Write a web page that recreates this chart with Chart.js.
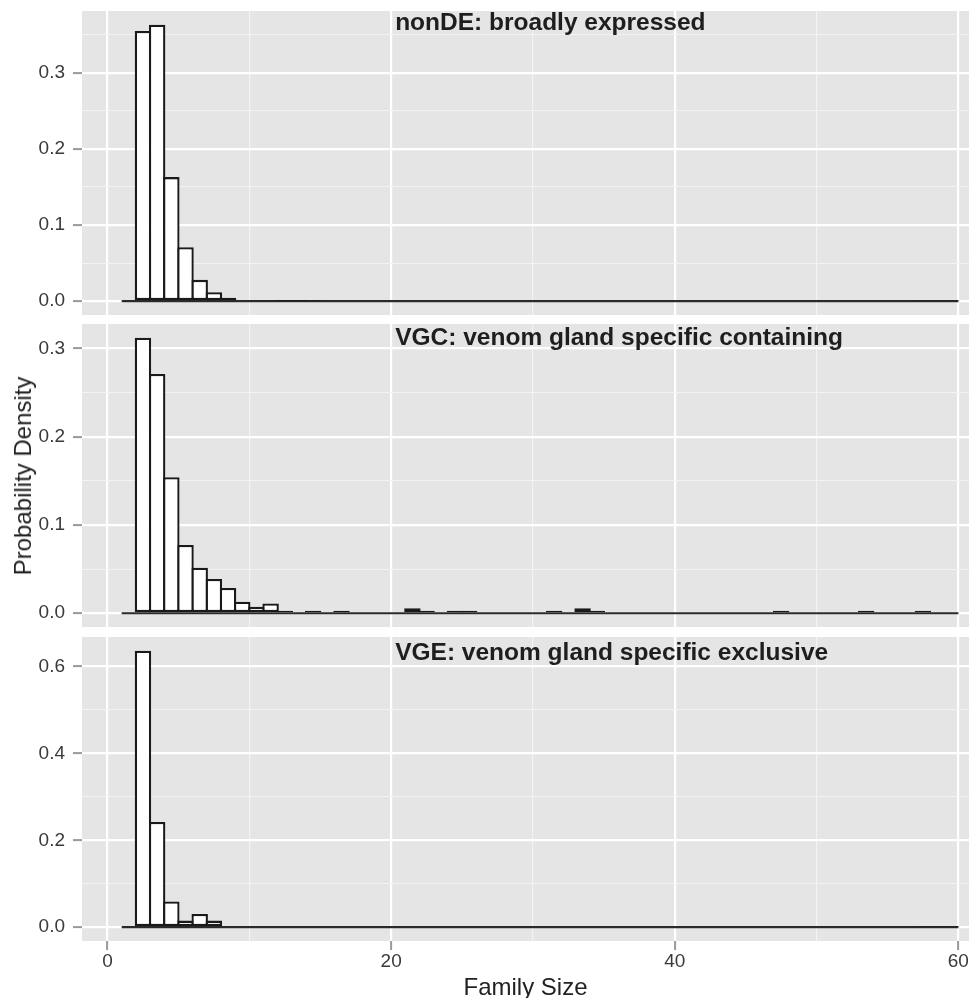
<!DOCTYPE html>
<html>
<head>
<meta charset="utf-8">
<script src="https://cdn.jsdelivr.net/npm/chart.js@4.4.1/dist/chart.umd.min.js"></script>
<style>
  body { margin: 0; background: #fff; }
  #wrap { position: relative; width: 970px; height: 998px; overflow: hidden; }
  #wrap canvas { position: absolute; left: 0; }
  #ytitle {
    position: absolute; left: 23px; top: 476px;
    transform: translate(-50%, -50%) rotate(-90deg);
    font: 24px "Liberation Sans", Arial, sans-serif; color: #222; white-space: nowrap;
  }
</style>
</head>
<body>
<div id="wrap">
  <canvas id="c1" width="970" height="315" style="top:0"></canvas>
  <canvas id="c2" width="970" height="303" style="top:324px"></canvas>
  <canvas id="c3" width="970" height="361" style="top:637px"></canvas>
  <div id="ytitle">Probability Density</div>
</div>
<script>
// family size bins, width 1, labelled by their left edge
const binStarts = [1, 2, 3, 4, 5, 6, 7, 8, 9, 10,
  11, 12, 13, 14, 15, 16, 17, 18, 19, 20,
  21, 22, 23, 24, 25, 26, 27, 28, 29, 30,
  31, 32, 33, 34, 35, 36, 37, 38, 39, 40,
  41, 42, 43, 44, 45, 46, 47, 48, 49, 50,
  51, 52, 53, 54, 55, 56, 57, 58, 59];

const nonDE = [0, 0.355, 0.363, 0.163, 0.071, 0.028, 0.0117, 0.0044, 0.0015, 0.001,
  0.0008, 0.0004, 0.0004, 0.0005, 0, 0, 0, 0, 0, 0,
  0, 0, 0, 0, 0, 0, 0, 0, 0, 0,
  0, 0, 0, 0, 0, 0, 0, 0, 0, 0,
  0, 0, 0, 0, 0, 0, 0, 0, 0, 0,
  0, 0, 0, 0, 0, 0, 0.0008, 0.0008, 0.0008];

const vgc = [0, 0.312, 0.271, 0.154, 0.0773, 0.0516, 0.0388, 0.0285, 0.013, 0.0074,
  0.011, 0.0028, 0, 0.0028, 0, 0.0028, 0, 0, 0, 0,
  0.0056, 0.0028, 0, 0.0028, 0.0028, 0, 0, 0, 0, 0,
  0.0028, 0, 0.0056, 0.0028, 0, 0, 0, 0, 0, 0,
  0, 0, 0, 0, 0, 0, 0.0028, 0, 0, 0,
  0, 0, 0.0028, 0, 0, 0, 0.0028, 0.0008, 0.0008];

const vge = [0, 0.636, 0.242, 0.059, 0.0152, 0.0303, 0.0152, 0, 0, 0,
  0, 0, 0, 0, 0, 0, 0, 0, 0, 0,
  0, 0, 0, 0, 0, 0, 0, 0, 0, 0,
  0, 0, 0, 0, 0, 0, 0, 0, 0, 0,
  0, 0, 0, 0, 0, 0, 0, 0, 0, 0,
  0, 0, 0, 0, 0, 0, 0.0015, 0.0015, 0.0015];

const panelTitles = ["nonDE: broadly expressed", "VGC: venom gland specific containing", "VGE: venom gland specific exclusive"];
const xTicks = [0, 20, 40, 60];
const yTicks1 = [0, 0.1, 0.2, 0.3];
const yTicks2 = [0, 0.1, 0.2, 0.3];
const yTicks3 = [0, 0.2, 0.4, 0.6];

const FONT = '"Liberation Sans", Arial, Helvetica, sans-serif';
const X_MIN = -1.8, X_MAX = 60.75;

const near = (a, b) => Math.abs(a - b) < 1e-9;

// majors plus the minor lines half way between them
function gridValues(majors, min, max) {
  const step = majors[1] - majors[0];
  const out = [];
  majors.forEach(v => { out.push(v); out.push(v + step / 2); out.push(v - step / 2); });
  return out.filter(v => v >= min && v <= max).sort((a, b) => a - b);
}

const panelPlugin = {
  id: 'panel',
  beforeDraw(chart) {
    const a = chart.chartArea;
    const ctx = chart.ctx;
    ctx.save();
    ctx.fillStyle = '#e5e5e5';
    ctx.fillRect(a.left, a.top, a.right - a.left, a.bottom - a.top);
    ctx.restore();
  },
  afterDatasetsDraw(chart, args, opts) {
    const ctx = chart.ctx;
    ctx.save();
    ctx.font = 'bold 24.5px ' + FONT;
    ctx.fillStyle = '#1e1e1e';
    ctx.textAlign = 'left';
    ctx.textBaseline = 'alphabetic';
    ctx.fillText(opts.text, chart.scales.x.getPixelForValue(20) + 4, chart.chartArea.top + opts.dy);
    ctx.restore();
  }
};

function makeChart(id, values, yTicks, title, dy, padTop, showX) {
  const ymax = Math.max(...values);
  const ymin = -0.05 * ymax, ytop = 1.05 * ymax;
  const yGrid = gridValues(yTicks, ymin, ytop);
  const xGrid = gridValues(xTicks, X_MIN, X_MAX);
  const isMajorY = v => yTicks.some(t => near(t, v));
  const isMajorX = v => xTicks.some(t => near(t, v));

  return new Chart(document.getElementById(id), {
    data: {
      datasets: [
        {
          type: 'bar',
          data: binStarts.map((b, i) => ({ x: b + 0.5, y: values[i] })),
          backgroundColor: '#ffffff',
          borderColor: '#1a1a1a',
          borderWidth: 2.3,
          borderSkipped: false,
          barPercentage: 1.16,
          categoryPercentage: 1,
          order: 1
        },
        {
          type: 'line',
          data: [{ x: binStarts[0], y: 0 }, { x: binStarts[binStarts.length - 1] + 1, y: 0 }],
          borderColor: '#2a2a2a',
          borderWidth: 2.2,
          pointRadius: 0,
          order: 2
        }
      ]
    },
    options: {
      responsive: false,
      animation: false,
      layout: { autoPadding: false, padding: { top: padTop, right: 1, left: 0, bottom: 0 } },
      plugins: {
        legend: { display: false },
        tooltip: { enabled: false },
        panel: { text: title, dy: dy }
      },
      scales: {
        x: {
          type: 'linear',
          min: X_MIN, max: X_MAX,
          offset: false,
          afterBuildTicks: s => { s.ticks = xGrid.map(v => ({ value: v })); },
          afterFit: s => { s.height = showX ? 57 : 0; s.paddingLeft = 0; s.paddingRight = 0; },
          ticks: {
            display: showX,
            autoSkip: false,
            maxRotation: 0,
            padding: 0,
            color: '#3a3a3a',
            font: { size: 19, family: FONT },
            callback: v => isMajorX(v) ? String(v) : ''
          },
          grid: {
            offset: false,
            drawTicks: showX,
            tickLength: 9,
            tickWidth: 2,
            tickColor: c => (c.tick && isMajorX(c.tick.value)) ? '#999999' : 'rgba(0,0,0,0)',
            color: c => (c.tick && isMajorX(c.tick.value)) ? '#ffffff' : '#f3f3f3',
            lineWidth: c => (c.tick && isMajorX(c.tick.value)) ? 2.2 : 1.1
          },
          border: { display: false },
          title: {
            display: showX,
            text: 'Family Size',
            color: '#222',
            font: { size: 24, family: FONT, lineHeight: 1.0 },
            padding: { top: 0, bottom: -2 }
          }
        },
        y: {
          type: 'linear',
          min: ymin, max: ytop,
          afterFit: s => { s.width = 82; s.paddingTop = 0; s.paddingBottom = 0; },
          afterBuildTicks: s => { s.ticks = yGrid.map(v => ({ value: v })); },
          ticks: {
            autoSkip: false,
            padding: 8,
            color: '#3a3a3a',
            font: { size: 19, family: FONT },
            callback: v => isMajorY(v) ? v.toFixed(1) : ''
          },
          grid: {
            tickLength: 9,
            tickWidth: 2,
            tickColor: c => (c.tick && isMajorY(c.tick.value)) ? '#999999' : 'rgba(0,0,0,0)',
            color: c => (c.tick && isMajorY(c.tick.value)) ? '#ffffff' : '#f3f3f3',
            lineWidth: c => (c.tick && isMajorY(c.tick.value)) ? 2.2 : 1.1
          },
          border: { display: false }
        }
      }
    },
    plugins: [panelPlugin]
  });
}

makeChart('c1', nonDE, yTicks1, panelTitles[0], 19, 11, false);
makeChart('c2', vgc, yTicks2, panelTitles[1], 21, 0, false);
makeChart('c3', vge, yTicks3, panelTitles[2], 23, 0, true);
</script>
</body>
</html>
